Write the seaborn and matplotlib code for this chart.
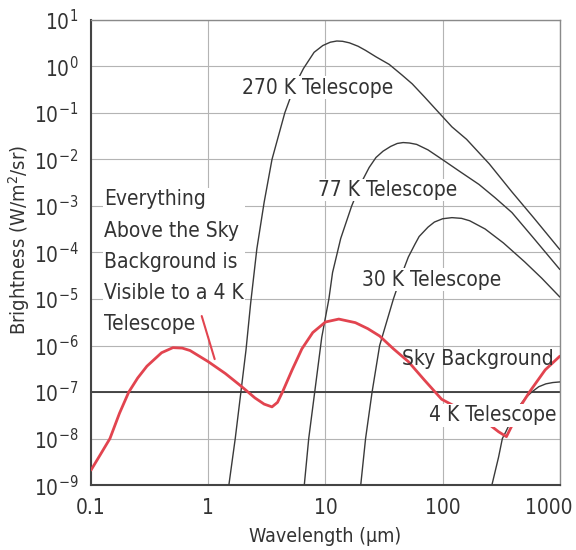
import matplotlib
matplotlib.use("Agg")
import matplotlib.pyplot as plt
import matplotlib.transforms as mtransforms
import seaborn as sns
import pandas as pd
from matplotlib.ticker import NullLocator

# Sky background (red curve)
sky_wl = [0.1, 0.12, 0.145, 0.175, 0.21, 0.25, 0.3, 0.4, 0.5, 0.6, 0.7, 1.0, 1.4, 1.9,
          2.5, 3.0, 3.5, 3.9, 4.3, 5.2, 6.3, 7.8, 10, 13, 18, 23, 29, 38, 51, 70,
          98, 130, 178, 250, 300, 350, 390, 450, 550, 750, 1000]
sky_br = [2.1e-9, 4.5e-9, 1e-8, 3.5e-8, 1e-7, 2e-7, 3.6e-7, 7e-7, 9e-7, 8.8e-7,
          7.8e-7, 4.5e-7, 2.5e-7, 1.35e-7, 7.5e-8, 5.5e-8, 4.8e-8, 6e-8, 1e-7,
          3e-7, 8.5e-7, 1.9e-6, 3.2e-6, 3.7e-6, 3.1e-6, 2.3e-6, 1.6e-6, 8.5e-7,
          4.5e-7, 1.8e-7, 7e-8, 4.8e-8, 3.4e-8, 2e-8, 1.4e-8, 1.1e-8, 1.9e-8,
          4.5e-8, 1e-7, 3e-7, 5.9e-7]

# Telescope emission curves
t270_wl = [1.5, 1.7, 1.9, 2.1, 2.3, 2.6, 3.0, 3.5, 4.5, 5.5, 6.5, 8, 9.5, 11, 12.5,
           14, 16, 19, 22, 27, 35, 45, 55, 70, 90, 120, 160, 250, 390, 600, 1000]
t270_br = [1e-9, 1e-8, 1e-7, 8e-7, 8e-6, 1.2e-4, 1.2e-3, 1e-2, 0.1, 0.4, 0.9,
           2.0, 2.8, 3.3, 3.5, 3.45, 3.2, 2.7, 2.2, 1.6, 1.1, 0.65, 0.42, 0.22,
           0.11, 0.05, 0.027, 8e-3, 2e-3, 5.5e-4, 1.15e-4]

t77_wl = [6.6, 7.2, 8.1, 9.3, 10.7, 11.5, 13.5, 16.7, 20, 23.6, 27, 31, 36, 41,
          46, 52, 60, 75, 99, 140, 204, 280, 390, 600, 1000]
t77_br = [1e-9, 1e-8, 1e-7, 1.5e-6, 1e-5, 3.7e-5, 2e-4, 9.8e-4, 3e-3, 6.7e-3,
          1.1e-2, 1.5e-2, 1.9e-2, 2.2e-2, 2.3e-2, 2.25e-2, 2.1e-2, 1.6e-2, 1e-2,
          5.5e-3, 2.9e-3, 1.5e-3, 7.2e-4, 2e-4, 4.3e-5]

t30_wl = [20, 22, 25, 29, 38, 45, 51, 58, 63, 75, 85, 100, 120, 145, 170, 230,
          330, 500, 700, 1000]
t30_br = [1e-9, 1e-8, 1e-7, 1e-6, 1e-5, 3.5e-5, 8e-5, 1.5e-4, 2.2e-4, 3.5e-4,
          4.5e-4, 5.3e-4, 5.6e-4, 5.4e-4, 4.8e-4, 3.2e-4, 1.6e-4, 6.3e-5, 2.8e-5, 1.1e-5]

t4_wl = [263, 300, 323, 346, 400, 450, 510, 575, 660, 760, 870, 1000]
t4_br = [1e-9, 4e-9, 1e-8, 1.4e-8, 3e-8, 5e-8, 7.5e-8, 1e-7, 1.3e-7, 1.5e-7,
         1.6e-7, 1.65e-7]

x_ticks = [0.1, 1, 10, 100, 1000]
x_tick_labels = ["0.1", "1", "10", "100", "1000"]
y_exponents = list(range(-9, 2))

sns.set_style("white")
plt.rcParams['font.family'] = ['DejaVu Sans']
plt.rcParams['font.stretch'] = 'condensed'
plt.rcParams['mathtext.default'] = 'regular'

fig = plt.figure(figsize=(5.76, 5.5), dpi=100)
ax = fig.add_axes([0.158, 0.118, 0.814, 0.846])
ax.set_xscale('log')
ax.set_yscale('log')

for wl, br in [(t270_wl, t270_br), (t77_wl, t77_br), (t30_wl, t30_br), (t4_wl, t4_br)]:
    df = pd.DataFrame({"wl": wl, "br": br})
    sns.lineplot(data=df, x="wl", y="br", ax=ax, color="#3a3a3a", lw=1.0,
                 estimator=None, sort=False, zorder=3)

sky_df = pd.DataFrame({"wl": sky_wl, "br": sky_br})
sns.lineplot(data=sky_df, x="wl", y="br", ax=ax, color="#e2444f", lw=2.0,
             estimator=None, sort=False, zorder=4)

# red pointer from the note to the sky curve
ax.plot([0.88, 1.135], [4.3e-6, 5.1e-7], color="#e2444f", lw=1.5, zorder=7)

ax.set_xlim(0.1, 1000)
ax.set_ylim(1e-9, 1e1)
ax.set_xticks(x_ticks)
ax.set_xticklabels(x_tick_labels)
ax.set_yticks([10.0 ** e for e in y_exponents])
ax.set_yticklabels([r"$10^{%d}$" % e for e in y_exponents])
ax.xaxis.set_minor_locator(NullLocator())
ax.yaxis.set_minor_locator(NullLocator())

ax.grid(True, which='major', color="#b4b4b4", lw=0.8, zorder=1)
ax.axhline(1e-7, color="#3a3a3a", lw=1.3, zorder=2)

ax.tick_params(axis='both', direction='out', length=6, width=0.8, color="#999999",
               labelsize=15, labelcolor="#333333", pad=3)

for side in ['left', 'bottom']:
    ax.spines[side].set_color("#444444")
    ax.spines[side].set_linewidth(1.5)
for side in ['top', 'right']:
    ax.spines[side].set_color("#8a8a8a")
    ax.spines[side].set_linewidth(1.0)

ax.set_xlabel("Wavelength (µm)", fontsize=14, color="#333333", labelpad=7)
ax.set_ylabel("Brightness (W/m$^2$/sr)", fontsize=14.5, color="#333333")
ax.yaxis.set_label_coords(-0.125, 0.527)

box = dict(facecolor="white", edgecolor="none", pad=1)
ax.text(8.5, 0.35, "270 K Telescope", fontsize=15, color="#333333",
        ha="center", va="center", bbox=box, zorder=6)
ax.text(34, 2.2e-3, "77 K Telescope", fontsize=15, color="#333333",
        ha="center", va="center", bbox=box, zorder=6)
ax.text(81, 2.6e-5, "30 K Telescope", fontsize=15, color="#333333",
        ha="center", va="center", bbox=box, zorder=6)
ax.text(200, 5.1e-7, "Sky Background", fontsize=15, color="#333333",
        ha="center", va="center", zorder=6)
ax.text(270, 3.2e-8, "4 K Telescope", fontsize=15, color="#333333",
        ha="center", va="center", bbox=box, zorder=6)
ax.text(0.129, 6.3e-5, "Everything\nAbove the Sky\nBackground is\nVisible to a 4 K\nTelescope",
        fontsize=15, color="#333333", ha="left", va="center", linespacing=1.7,
        bbox=box, zorder=6)

# nudge the last x tick label inward like the original
last = ax.get_xticklabels()[-1]
last.set_transform(last.get_transform() +
                   mtransforms.ScaledTranslation(-8 / 72, 0, fig.dpi_scale_trans))

fig.savefig("out.png", dpi=100)
